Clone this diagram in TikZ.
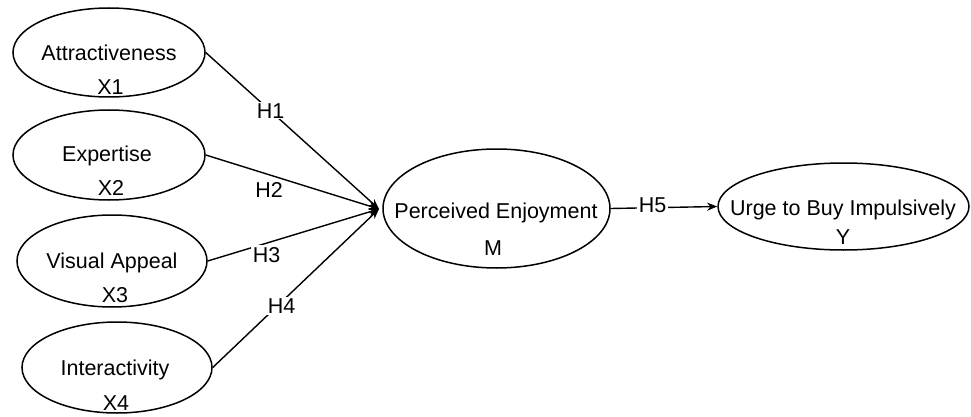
\documentclass[tikz,border=0pt]{standalone}
\usepackage{fontspec}
\setmainfont{Liberation Sans}
\usetikzlibrary{shapes.geometric,arrows.meta}
\begin{document}
\begin{tikzpicture}[x=1pt,y=-1pt,
  construct/.style={draw=black,line width=1.5pt,ellipse,inner sep=0pt,fill=white},
  txt/.style={anchor=base,inner sep=0pt,font=\fontsize{21.5}{25}\selectfont,text=black},
  hlab/.style={anchor=base,inner sep=1.5pt,fill=white,font=\fontsize{21.5}{25}\selectfont,text=black},
  path/.style={line width=1.4pt,draw=black,-{Stealth[length=10pt,width=8pt,inset=3pt]}}]
\useasboundingbox (0,0) rectangle (971,417);
% constructs
\node[construct,minimum width=192pt,minimum height=89pt] (x1) at (109,52.5) {};
\node[construct,minimum width=192pt,minimum height=90pt] (x2) at (109,155) {};
\node[construct,minimum width=190pt,minimum height=92pt] (x3) at (112,261) {};
\node[construct,minimum width=190pt,minimum height=91pt] (x4) at (117,367.5) {};
\node[construct,minimum width=227pt,minimum height=119pt] (pe) at (496.5,208.5) {};
\node[construct,minimum width=251pt,minimum height=87pt] (ub) at (843.5,206.5) {};
\coordinate (tip) at (379,209);
% paths
\draw[path] (x1.east) -- (tip);
\draw[path] (x2.east) -- (tip);
\draw[path] (x3.east) -- (tip);
\draw[path] (x4.east) -- (tip);
\draw[path] (pe.east) -- (ub.west);
% texts
\node[txt] (x1t) at (109,61) {Attractiveness};
\node[txt] (x1v) at (110.5,95) {X1};
\node[txt] (x2t) at (107,161) {Expertise};
\node[txt] (x2v) at (111,195) {X2};
\node[txt] (x3t) at (112,268) {Visual Appeal};
\node[txt] (x3v) at (115,302) {X3};
\node[txt] (x4t) at (115,375) {Interactivity};
\node[txt] (x4v) at (116,410) {X4};
\node[txt] (pet) at (496,218) {Perceived Enjoyment};
\node[txt] (pev) at (493,255) {M};
\node[txt] (ubt) at (843,215) {Urge to Buy Impulsively};
\node[txt] (ubv) at (843,244) {Y};
% hypothesis labels
\node[hlab] (h1) at (270.5,118) {H1};
\node[hlab] (h2) at (269,197) {H2};
\node[hlab] (h3) at (266.5,262) {H3};
\node[hlab] (h4) at (281.5,313) {H4};
\node[hlab] (h5) at (652.5,212) {H5};
\end{tikzpicture}
\end{document}
